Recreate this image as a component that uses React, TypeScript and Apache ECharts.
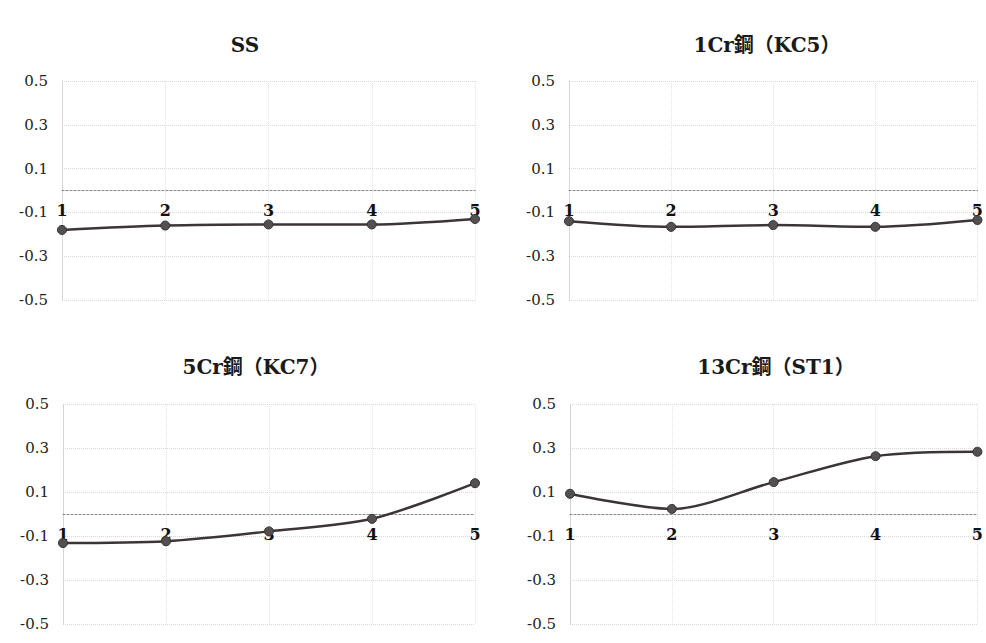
import React, { useEffect, useRef } from "react";
import * as echarts from "echarts";

const categories = ["1", "2", "3", "4", "5"];
const yTicks = [-0.5, -0.3, -0.1, 0.1, 0.3, 0.5];
const titles = ["SS", "1Cr鋼（KC5）", "5Cr鋼（KC7）", "13Cr鋼（ST1）"];
const ssValues = [-0.18, -0.16, -0.155, -0.155, -0.13];
const kc5Values = [-0.14, -0.166, -0.158, -0.166, -0.135];
const kc7Values = [-0.132, -0.124, -0.079, -0.022, 0.14];
const st1Values = [0.092, 0.023, 0.145, 0.263, 0.283];

const seriesList = [ssValues, kc5Values, kc7Values, st1Values];

const grids = [
  { left: 62, top: 81, width: 413, height: 219 },
  { left: 569, top: 81, width: 411, height: 219 },
  { left: 63, top: 404, width: 412, height: 220 },
  { left: 570, top: 404, width: 410, height: 220 },
];
const titlePos = [
  [245, 45],
  [767, 45],
  [256, 367],
  [776, 367],
];

const FONT = "'DejaVu Serif', 'Noto Sans CJK JP', serif";

export default function App() {
  const ref = useRef<HTMLDivElement>(null);
  useEffect(() => {
    document.body.style.margin = "0";
    const chart = echarts.init(ref.current!, null, { renderer: "svg" });
    const option: any = {
      animation: false,
      backgroundColor: "#ffffff",
      grid: grids.map((g) => ({ ...g, containLabel: false })),
      graphic: titles.map((t, i) => ({
        type: "text",
        x: titlePos[i][0],
        y: titlePos[i][1],
        style: {
          text: t,
          textAlign: "center",
          textVerticalAlign: "middle",
          fontFamily: FONT,
          fontWeight: "bold",
          fontSize: 20,
          fill: "#1a1a1a",
        },
      })),
      xAxis: grids.map((g, i) => ({
        type: "category",
        gridIndex: i,
        data: categories,
        boundaryGap: false,
        position: "bottom",
        offset: -g.height / 2,
        axisLine: { show: true, onZero: false, lineStyle: { color: "#8a8a8a", type: [2, 2], width: 1.2 } },
        axisTick: { show: false },
        axisLabel: {
          margin: 12,
          fontFamily: FONT,
          fontWeight: "bold",
          fontSize: 16,
          color: "#111",
        },
        splitLine: { show: true, lineStyle: { color: "#e2e2e2", type: "dotted" } },
      })),
      yAxis: grids.map((_, i) => ({
        type: "value",
        gridIndex: i,
        min: -0.5,
        max: 0.5,
        axisLine: { show: true, lineStyle: { color: "#d0d0d0", type: "dotted" } },
        axisTick: { show: false, customValues: yTicks },
        axisLabel: {
          customValues: yTicks,
          margin: 14,
          fontFamily: FONT,
          fontSize: 15,
          color: "#222",
          formatter: (v: number) => v.toFixed(1),
        },
        splitLine: { show: true, lineStyle: { color: "#d8d8d8", type: "dotted" } },
      })),
      series: seriesList.map((vals, i) => ({
        type: "line",
        xAxisIndex: i,
        yAxisIndex: i,
        data: vals,
        smooth: 0.3,
        symbol: "circle",
        symbolSize: 9,
        lineStyle: { color: "#3d3535", width: 2.5 },
        itemStyle: { color: "#555050", borderColor: "#333", borderWidth: 1 },
        z: 5,
      })),
    };
    chart.setOption(option);
    return () => chart.dispose();
  }, []);
  return <div ref={ref} style={{ width: 986, height: 643 }} />;
}
